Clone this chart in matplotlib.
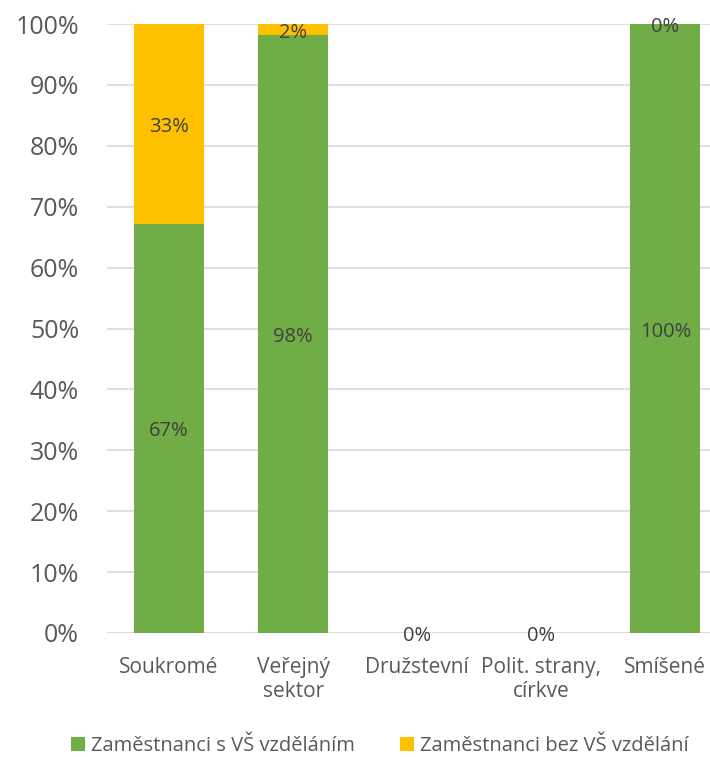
import numpy as np
import matplotlib.pyplot as plt

plt.rcParams['font.family'] = ['Open Sans', 'DejaVu Sans']

categories = ['Soukromé', 'Veřejný\nsektor', 'Družstevní', 'Polit. strany,\ncírkve', 'Smíšené']
s_vs = [67.2, 98.2, 0, 0, 100]
bez_vs = [32.8, 1.8, 0, 0, 0]
series_names = ['Zaměstnanci s VŠ vzděláním', 'Zaměstnanci bez VŠ vzdělání']
colors = ['#70AD47', '#FFC000']

fig = plt.figure(figsize=(7.1, 7.57), dpi=100)
ax = fig.add_axes([107/710, 124/757, 603/710, 609/757])

x = np.arange(len(categories))
w = 0.565
b1 = ax.bar(x, s_vs, w, color=colors[0], label=series_names[0], zorder=2)
b2 = ax.bar(x, bez_vs, w, bottom=s_vs, color=colors[1], label=series_names[1], zorder=2)

# data labels in the middle of each segment
lbl = dict(fontsize=14.5, color='#404040')
for bars, vals, bottoms in [(b1, s_vs, [0]*5), (b2, bez_vs, s_vs)]:
    for i, (v, b) in enumerate(zip(vals, bottoms)):
        if bars is b2 and v == 0 and s_vs[i] == 0:
            continue
        ax.annotate(f'{round(v):.0f}%', (x[i], b + v / 2), xytext=(0, -2.2),
                    textcoords='offset points', ha='center', va='center', **lbl)

ax.set_xlim(-0.5, 4.36)
ax.set_ylim(0, 100)
ax.set_yticks(np.arange(0, 101, 10))
ax.set_yticklabels([f'{t}%' for t in range(0, 101, 10)], fontsize=18, color='#595959')
ax.set_xticks(x)
ax.set_xticklabels(categories, fontsize=15, color='#595959', linespacing=1.2)
ax.tick_params(axis='x', length=0, pad=17)
ax.tick_params(axis='y', length=0, pad=20)
ax.grid(axis='y', color='#D9D9D9', linewidth=1.2, zorder=0)
for s in ax.spines.values():
    s.set_visible(False)
ax.axhline(0, color='#D9D9D9', linewidth=1.2, zorder=1)

fig.legend(handles=[b1, b2], loc='center', bbox_to_anchor=(0.535, 0.014), ncol=2,
           frameon=False, fontsize=14.5, labelcolor='#595959', handlelength=0.7,
           handleheight=0.7, handletextpad=0.3, columnspacing=2.2)

fig.savefig('out.png', dpi=100)
